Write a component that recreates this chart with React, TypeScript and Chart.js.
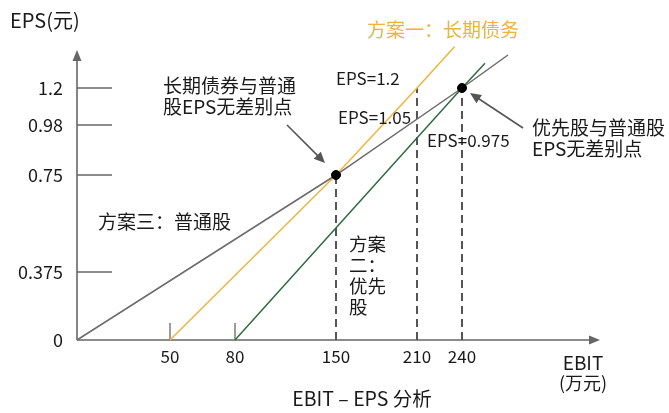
import React, { useEffect, useRef } from 'react';
import { Chart, LinearScale, registerables } from 'chart.js';

const FONT = '"Noto Sans CJK SC", "Noto Sans", sans-serif';

// ---- data (EBIT in 万元, EPS in 元) ----
const xTickValues = [50, 80, 150, 210, 240];
const yTickValues = [0, 0.375, 0.75, 0.98, 1.2];
const xTickMarks = [50, 80];
const yTickMarks = [0.375, 0.75, 0.98, 1.2];

// 方案三：普通股
const commonX = [0, 150, 240, 270];
const commonY = [0, 0.75, 1.2, 1.35];
// 方案一：长期债务
const debtX = [50, 150, 210, 235];
const debtY = [0, 0.75, 1.2, 1.3875];
// 方案二：优先股
const prefX = [80, 240, 255];
const prefY = [0, 1.2, 1.3125];
// 无差别点
const indiffX = [150, 240];
const indiffY = [0.75, 1.2];
// 竖直虚线
const guideX = [150, 210, 240];
const guideY = [0.75, 1.2, 1.2];

const X_MIN = 0;
const X_MAX = 330;
const Y_MIN = 0;
const Y_MAX = 1.4;

// schematic (non-uniform) axes: [value, fraction of axis length]
const X_STOPS: [number, number][] = [
  [0, 0], [50, 93 / 523], [80, 158 / 523], [150, 259 / 523],
  [210, 340 / 523], [240, 385 / 523], [330, 1],
];
const Y_STOPS: [number, number][] = [
  [0, 0], [0.375, 68 / 296], [0.75, 165 / 296], [0.98, 215 / 296],
  [1.2, 252 / 296], [1.4, 1],
];

function interp(stops: [number, number][], v: number, from: 0 | 1): number {
  const to = from === 0 ? 1 : 0;
  let i = 0;
  while (i < stops.length - 2 && v > stops[i + 1][from]) i++;
  const a = stops[i], b = stops[i + 1];
  return a[to] + ((v - a[from]) * (b[to] - a[to])) / (b[from] - a[from]);
}

class PiecewiseScale extends LinearScale {
  static id = 'piecewise';
  static defaults = {};
  stopList(): [number, number][] {
    return (this as any).axis === 'x' ? X_STOPS : Y_STOPS;
  }
  getPixelForValue(value: number) {
    return this.getPixelForDecimal(interp(this.stopList(), value, 0));
  }
  getValueForPixel(pixel: number) {
    return interp(this.stopList(), this.getDecimalForPixel(pixel), 1);
  }
}

Chart.register(...registerables, PiecewiseScale as any);

const pts = (xs: number[], ys: number[]) => xs.map((x, i) => ({ x, y: ys[i] }));

function arrowHead(ctx: CanvasRenderingContext2D, x1: number, y1: number, x2: number, y2: number, len: number, half: number) {
  const ang = Math.atan2(y2 - y1, x2 - x1);
  ctx.beginPath();
  ctx.moveTo(x2, y2);
  ctx.lineTo(x2 - len * Math.cos(ang) + half * Math.sin(ang), y2 - len * Math.sin(ang) - half * Math.cos(ang));
  ctx.lineTo(x2 - len * Math.cos(ang) - half * Math.sin(ang), y2 - len * Math.sin(ang) + half * Math.cos(ang));
  ctx.closePath();
  ctx.fill();
}

function arrowLine(ctx: CanvasRenderingContext2D, x1: number, y1: number, x2: number, y2: number, len: number, half: number) {
  const ang = Math.atan2(y2 - y1, x2 - x1);
  ctx.beginPath();
  ctx.moveTo(x1, y1);
  ctx.lineTo(x2 - (len - 1) * Math.cos(ang), y2 - (len - 1) * Math.sin(ang));
  ctx.stroke();
  arrowHead(ctx, x1, y1, x2, y2, len, half);
}

const axesPlugin = {
  id: 'axesPlugin',
  beforeDatasetsDraw(chart: any) {
    const { ctx, chartArea, scales } = chart;
    const xs = scales.x, ys = scales.y;
    const x0 = xs.getPixelForValue(0);
    const y0 = ys.getPixelForValue(0);
    ctx.save();
    ctx.strokeStyle = '#666';
    ctx.fillStyle = '#666';
    ctx.lineWidth = 1.6;
    arrowLine(ctx, x0, y0, x0, chartArea.top + 6, 11, 4.5);
    arrowLine(ctx, x0, y0, chartArea.right, y0, 11, 4.5);
    ctx.lineWidth = 1.3;
    yTickMarks.forEach((v) => {
      const y = ys.getPixelForValue(v);
      ctx.beginPath();
      ctx.moveTo(x0, y);
      ctx.lineTo(x0 + 35, y);
      ctx.stroke();
    });
    xTickMarks.forEach((v) => {
      const x = xs.getPixelForValue(v);
      ctx.beginPath();
      ctx.moveTo(x, y0);
      ctx.lineTo(x, y0 - 17);
      ctx.stroke();
    });
    ctx.restore();
  },
  afterDraw(chart: any) {
    const { ctx } = chart;
    ctx.save();
    ctx.textBaseline = 'middle';
    ctx.textAlign = 'left';
    const txt = (s: string, x: number, y: number, size = 19, color = '#1a1a1a', align: CanvasTextAlign = 'left') => {
      ctx.font = `${size}px ${FONT}`;
      ctx.fillStyle = color;
      ctx.textAlign = align;
      ctx.fillText(s, x, y);
    };
    txt('EPS(元)', 10, 20, 20);
    txt('方案一：长期债务', 367, 30, 19, '#EFB23E');
    txt('长期债券与普通', 163, 86);
    txt('股EPS无差别点', 163, 107);
    txt('优先股与普通股', 532, 128);
    txt('EPS无差别点', 532, 149);
    txt('方案三：普通股', 98, 222);
    txt('方案', 349, 244, 18.5);
    txt('二：', 349, 265, 18.5);
    txt('优先', 349, 286, 18.5);
    txt('股', 349, 307, 18.5);
    txt('EPS=1.2', 336, 79, 17);
    txt('EPS=1.05', 338, 118, 17);
    txt('EPS=0.975', 427, 141, 17);
    txt('EBIT', 583, 363, 19, '#1a1a1a', 'center');
    txt('(万元)', 583, 383, 18, '#1a1a1a', 'center');
    txt('EBIT – EPS 分析', 362, 399, 19.5, '#1a1a1a', 'center');

    ctx.strokeStyle = '#555';
    ctx.fillStyle = '#555';
    ctx.lineWidth = 1.6;
    arrowLine(ctx, 287, 125, 325, 163, 11, 5);
    arrowLine(ctx, 523, 128, 470, 93, 11, 5);
    ctx.restore();
  },
};

export default function App() {
  const ref = useRef<HTMLCanvasElement>(null);
  useEffect(() => {
    document.body.style.margin = '0';
    const canvas = ref.current!;
    const guides = guideX.map((x, i) => ({
      data: [{ x, y: 0 }, { x, y: guideY[i] }],
      showLine: true,
      borderColor: '#555',
      borderWidth: 2,
      borderDash: [8, 5],
      pointRadius: 0,
      clip: false as any,
    }));
    const chart = new Chart(canvas, {
      type: 'scatter',
      data: {
        datasets: [
          {
            data: pts(indiffX, indiffY),
            showLine: false,
            pointRadius: 4.5,
            pointBackgroundColor: '#000',
            pointBorderColor: '#000',
            clip: false as any,
          },
          {
            data: pts(commonX, commonY),
            showLine: true,
            borderColor: '#6b6b6b',
            borderWidth: 1.5,
            pointRadius: 0,
            clip: false as any,
          },
          {
            data: pts(debtX, debtY),
            showLine: true,
            borderColor: '#F0B43C',
            borderWidth: 1.5,
            pointRadius: 0,
            clip: false as any,
          },
          {
            data: pts(prefX, prefY),
            showLine: true,
            borderColor: '#2F6B3F',
            borderWidth: 1.5,
            pointRadius: 0,
            clip: false as any,
          },
          ...guides,
        ],
      },
      options: {
        responsive: false,
        animation: false,
        layout: { padding: { top: 44, right: 69, left: 0, bottom: 0 } },
        plugins: { legend: { display: false }, tooltip: { enabled: false }, title: { display: false } },
        scales: {
          x: {
            type: 'piecewise' as any,
            min: X_MIN,
            max: X_MAX,
            grid: { display: false, drawTicks: false },
            border: { display: false },
            afterBuildTicks: (s: any) => { s.ticks = xTickValues.map((v) => ({ value: v })); },
            afterFit: (s: any) => { s.height = 73; },
            ticks: {
              autoSkip: false,
              maxRotation: 0,
              padding: 6,
              color: '#1a1a1a',
              font: { family: FONT, size: 17 },
              callback: (v: any) => String(v),
            },
          },
          y: {
            type: 'piecewise' as any,
            min: Y_MIN,
            max: Y_MAX,
            grid: { display: false, drawTicks: false },
            border: { display: false },
            afterBuildTicks: (s: any) => { s.ticks = yTickValues.map((v) => ({ value: v })); },
            afterFit: (s: any) => { s.width = 77; },
            ticks: {
              autoSkip: false,
              padding: 14,
              color: '#1a1a1a',
              font: { family: FONT, size: 18 },
              callback: (v: any) => String(v),
            },
          },
        },
      },
      plugins: [axesPlugin],
    } as any);
    return () => chart.destroy();
  }, []);
  return (
    <div style={{ width: 669, height: 413 }}>
      <canvas ref={ref} width={669} height={413} style={{ display: 'block' }} />
    </div>
  );
}
